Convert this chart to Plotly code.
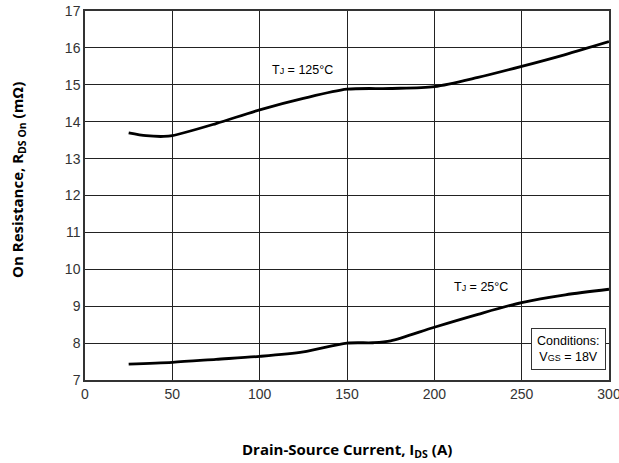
import plotly.graph_objects as go

# Data
ids_125 = [25, 35, 45, 50, 75, 100, 125, 150, 175, 200, 225, 250, 275, 300]
rds_125 = [13.70, 13.62, 13.60, 13.62, 13.95, 14.32, 14.63, 14.88, 14.90, 14.95, 15.20, 15.50, 15.82, 16.17]

ids_25 = [25, 50, 75, 100, 125, 150, 165, 175, 200, 225, 250, 275, 300]
rds_25 = [7.43, 7.48, 7.56, 7.64, 7.76, 8.00, 8.01, 8.06, 8.43, 8.78, 9.10, 9.31, 9.46]

x_ticks = [0, 50, 100, 150, 200, 250, 300]
y_ticks = [7, 8, 9, 10, 11, 12, 13, 14, 15, 16, 17]

fig = go.Figure()
for xs, ys in [(ids_125, rds_125), (ids_25, rds_25)]:
    fig.add_trace(go.Scatter(x=xs, y=ys, mode="lines",
                             line=dict(color="black", width=2.8, shape="spline", smoothing=0.8),
                             showlegend=False, hoverinfo="skip"))

tick_font = dict(family="Liberation Sans, Arial, sans-serif", size=14, color="#333333")
fig.update_xaxes(range=[0, 300], tickvals=x_ticks, showgrid=True, gridcolor="#222222", gridwidth=1,
                 showline=True, linecolor="#333333", linewidth=1.5, mirror=True, automargin=False,
                 ticks="", tickfont=tick_font, zeroline=False, ticklabeloverflow="allow")
fig.update_yaxes(range=[7, 17], tickvals=y_ticks, showgrid=True, gridcolor="#222222", gridwidth=1,
                 showline=True, linecolor="#333333", linewidth=1.5, mirror=True, automargin=False,
                 ticks="", tickfont=tick_font, zeroline=False, ticklabeloverflow="allow")

title_font = dict(family="Open Sans, sans-serif", size=15, color="black")
ann_font = dict(family="Liberation Sans, Arial, sans-serif", size=12.5, color="black")

fig.update_layout(
    width=619, height=463,
    margin=dict(l=85, r=10, t=11, b=83, autoexpand=False),
    plot_bgcolor="white", paper_bgcolor="white",
    annotations=[
        dict(x=0.5, y=-0.19, xref="paper", yref="paper", xanchor="center", yanchor="middle",
             showarrow=False, font=title_font,
             text="<b>Drain-Source Current, I<sub>DS</sub> (A)</b>"),
        dict(x=-0.128, y=0.542, xref="paper", yref="paper", xanchor="center", yanchor="middle",
             showarrow=False, font=title_font, textangle=-90,
             text="<b>On Resistance, R<sub>DS On</sub> (mΩ)</b>"),
        dict(x=124.5, y=15.4, xref="x", yref="y", showarrow=False, font=ann_font,
             bgcolor="white", text="T<span style='font-size:9px'>J</span> = 125°C"),
        dict(x=226.7, y=9.52, xref="x", yref="y", showarrow=False, font=ann_font,
             bgcolor="white", text="T<span style='font-size:9px'>J</span> = 25°C"),
        dict(x=276.8, y=7.84, xref="x", yref="y", showarrow=False, font=ann_font,
             bgcolor="white", bordercolor="#333333", borderwidth=1, borderpad=5, align="center",
             text="Conditions:<br>V<span style='font-size:9px'>GS</span> = 18V"),
    ],
)

fig.write_html("out.html", config={"displayModeBar": False},
               post_script="document.body.style.margin='0';document.body.style.overflow='hidden';")
